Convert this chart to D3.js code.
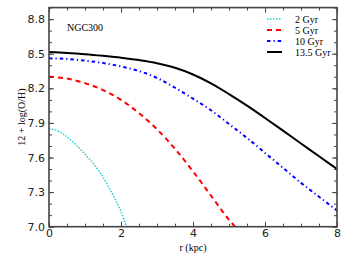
<!DOCTYPE html>
<html><head><meta charset="utf-8">
<script src="https://cdn.jsdelivr.net/npm/d3@7"></script>
<style>body{margin:0;background:#fff}svg{display:block}</style>
</head><body><svg id="c" width="348" height="261"></svg>
<script>
const r2 = [0,0.25,0.5,0.75,1,1.25,1.5,1.75,2,2.15];
const v2 = [7.85,7.83,7.78,7.71,7.63,7.54,7.43,7.29,7.13,7.0];
const r5 = [0,0.5,1,1.5,2,2.5,3,3.5,4,4.5,5,5.17];
const v5 = [8.30,8.285,8.245,8.185,8.10,7.985,7.845,7.675,7.48,7.27,7.06,7.0];
const r10 = [0,0.5,1,1.5,2,2.5,3,3.5,4,4.5,5,5.5,6,6.5,7,7.5,8];
const v10 = [8.46,8.455,8.44,8.42,8.39,8.35,8.29,8.205,8.11,8.01,7.89,7.77,7.64,7.51,7.38,7.26,7.14];
const r135 = [0,0.5,1,1.5,2,2.5,3,3.5,4,4.5,5,5.5,6,6.5,7,7.5,8];
const v135 = [8.515,8.507,8.496,8.482,8.466,8.445,8.418,8.378,8.32,8.243,8.15,8.05,7.943,7.833,7.722,7.611,7.50];
const labels = ["2 Gyr","5 Gyr","10 Gyr","13.5 Gyr"];
const xTicks = [0,2,4,6,8];
const yTicks = [7.0,7.3,7.6,7.9,8.2,8.5,8.8];

const series = [
  {r:r2, v:v2, color:"#22cccc", dash:"1.5,1.5", w:1.5},
  {r:r5, v:v5, color:"#ff0000", dash:"5,4", w:2},
  {r:r10, v:v10, color:"#0000ff", dash:"3.5,3,1.2,3", w:2},
  {r:r135, v:v135, color:"#000000", dash:null, w:2}
];

const svg = d3.select("#c");
const L=49, R=337, T=7.6, B=226.7;
const x = d3.scaleLinear().domain([0,8]).range([L,R]);
const y = d3.scaleLinear().domain([7.0,8.9]).range([B,T]);

svg.append("clipPath").attr("id","cp").append("rect")
  .attr("x",L).attr("y",T).attr("width",R-L).attr("height",B-T);

const line = d3.line().x(d=>x(d[0])).y(d=>y(d[1])).curve(d3.curveMonotoneX);
const g = svg.append("g").attr("clip-path","url(#cp)");
series.forEach(s=>{
  g.append("path").datum(s.r.map((r,i)=>[r,s.v[i]]))
   .attr("d",line).attr("fill","none").attr("stroke",s.color)
   .attr("stroke-width",s.w).attr("stroke-dasharray",s.dash);
});

const axisColor="#444";
function styleAxis(sel){
  sel.select(".domain").remove();
  sel.selectAll("line").attr("stroke",axisColor).attr("stroke-width",1);
  sel.selectAll("text").attr("fill","#222").style("font-family","DejaVu Sans, sans-serif").style("font-size","11px");
}
const xMinor = d3.range(0,8.01,0.5);
const yMinor = d3.range(7.0,8.91,0.1).map(v=>+v.toFixed(1));

// bottom
svg.append("g").attr("transform",`translate(0,${B})`)
  .call(d3.axisBottom(x).tickValues(xMinor).tickSize(-3).tickFormat("")).call(styleAxis);
svg.append("g").attr("transform",`translate(0,${B})`)
  .call(d3.axisBottom(x).tickValues(xTicks).tickSize(-5).tickPadding(3).tickFormat(d3.format("d"))).call(styleAxis);
// top
svg.append("g").attr("transform",`translate(0,${T})`)
  .call(d3.axisTop(x).tickValues(xMinor).tickSize(-3).tickFormat("")).call(styleAxis);
svg.append("g").attr("transform",`translate(0,${T})`)
  .call(d3.axisTop(x).tickValues(xTicks).tickSize(-5).tickFormat("")).call(styleAxis);
// left
svg.append("g").attr("transform",`translate(${L},0)`)
  .call(d3.axisLeft(y).tickValues(yMinor).tickSize(-3).tickFormat("")).call(styleAxis);
svg.append("g").attr("transform",`translate(${L},0)`)
  .call(d3.axisLeft(y).tickValues(yTicks).tickSize(-5).tickPadding(4).tickFormat(d3.format(".1f"))).call(styleAxis);
// right
svg.append("g").attr("transform",`translate(${R},0)`)
  .call(d3.axisRight(y).tickValues(yMinor).tickSize(-3).tickFormat("")).call(styleAxis);
svg.append("g").attr("transform",`translate(${R},0)`)
  .call(d3.axisRight(y).tickValues(yTicks).tickSize(-5).tickFormat("")).call(styleAxis);

svg.append("rect").attr("x",L).attr("y",T).attr("width",R-L).attr("height",B-T)
  .attr("fill","none").attr("stroke",axisColor).attr("stroke-width",1.6);

const serif="Liberation Serif, Times New Roman, serif";
svg.append("text").attr("x",67).attr("y",31).attr("text-anchor","start")
  .style("font-family",serif).style("font-size","10px").text("NGC300");
svg.append("text").attr("x",193).attr("y",251).attr("text-anchor","middle")
  .style("font-family",serif).style("font-size","10px").text("r (kpc)");
svg.append("text").attr("transform","translate(25,117) rotate(-90)").attr("text-anchor","middle")
  .style("font-family",serif).style("font-size","10px").text("12 + log(O/H)");

const lg = svg.append("g");
series.forEach((s,i)=>{
  const yy = 19 + i*11;
  lg.append("line").attr("x1",267).attr("x2",282).attr("y1",yy).attr("y2",yy)
    .attr("stroke",s.color).attr("stroke-width",s.w).attr("stroke-dasharray",s.dash);
  lg.append("text").attr("x",295).attr("y",yy+3.5).style("font-family",serif)
    .style("font-size","10px").text(labels[i]);
});
</script></body></html>
